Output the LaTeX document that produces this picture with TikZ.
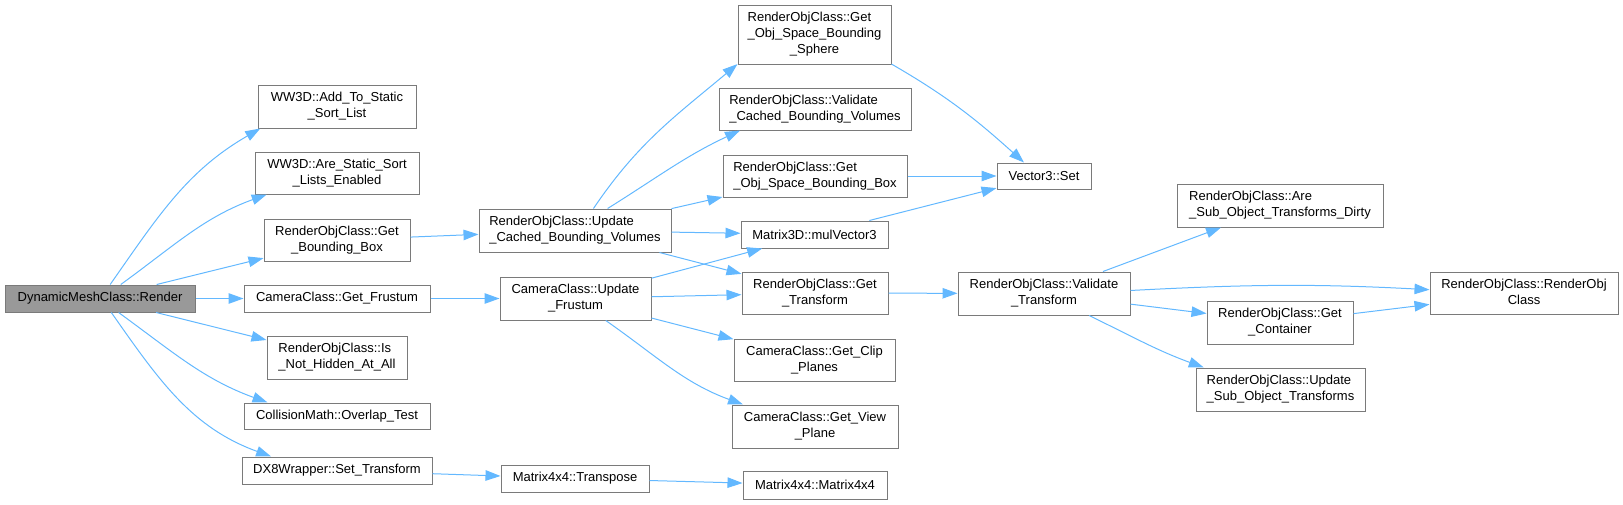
\documentclass[tikz,border=0pt]{standalone}
\usepackage{fontspec}
\setmainfont{Liberation Sans}
\usetikzlibrary{arrows.meta}

\definecolor{CallEdge}{HTML}{63B8FF}
\definecolor{CallFrame}{HTML}{7A7A7A}
\definecolor{CallRoot}{HTML}{999999}

\newcommand\fnlines[2]{\begin{tabular}{@{}l@{}}#1\\\multicolumn{1}{@{}c@{}}{#2}\end{tabular}}

\tikzset{
  fn/.style={draw=CallFrame,line width=1pt,fill=white,inner sep=0pt,
    font=\fontsize{13}{16}\selectfont},
  rootfn/.style={fn,fill=CallRoot},
  call/.style={draw=CallEdge,line width=1pt,-{Triangle[length=15pt,width=10.5pt]}}
}

\begin{document}
\begin{tikzpicture}[x=1pt,y=1pt]
    \useasboundingbox (0,0) rectangle (1623,-504);
    \node[rootfn,minimum width=190pt,minimum height=27pt] (render) at (100,-298.5) {DynamicMeshClass::Render};
    \node[fn,minimum width=158pt,minimum height=43pt] (add) at (337,-106.5) {\fnlines{WW3D::Add\_To\_Static}{\_Sort\_List}};
    \node[fn,minimum width=164pt,minimum height=42pt] (arestatic) at (337,-173) {\fnlines{WW3D::Are\_Static\_Sort}{\_Lists\_Enabled}};
    \node[fn,minimum width=146pt,minimum height=42pt] (getbb) at (337,-240) {\fnlines{RenderObjClass::Get}{\_Bounding\_Box}};
    \node[fn,minimum width=186pt,minimum height=27pt] (getfrust) at (337,-298.5) {CameraClass::Get\_Frustum};
    \node[fn,minimum width=140pt,minimum height=43pt] (isnot) at (337,-357.5) {\fnlines{RenderObjClass::Is}{\_Not\_Hidden\_At\_All}};
    \node[fn,minimum width=186pt,minimum height=26pt] (overlap) at (337,-416) {CollisionMath::Overlap\_Test};
    \node[fn,minimum width=190pt,minimum height=27pt] (settrans) at (337,-470.5) {DX8Wrapper::Set\_Transform};
    \node[fn,minimum width=192pt,minimum height=43pt] (updcached) at (575,-230.5) {\fnlines{RenderObjClass::Update}{\_Cached\_Bounding\_Volumes}};
    \node[fn,minimum width=151pt,minimum height=43pt] (updfrust) at (575.5,-298.5) {\fnlines{CameraClass::Update}{\_Frustum}};
    \node[fn,minimum width=148pt,minimum height=27pt] (transpose) at (575,-478.5) {Matrix4x4::Transpose};
    \node[fn,minimum width=153pt,minimum height=59pt] (sphere) at (814.5,-34.5) {\fnlines{RenderObjClass::Get\\\_Obj\_Space\_Bounding}{\_Sphere}};
    \node[fn,minimum width=192pt,minimum height=42pt] (valcached) at (815,-109) {\fnlines{RenderObjClass::Validate}{\_Cached\_Bounding\_Volumes}};
    \node[fn,minimum width=184pt,minimum height=42pt] (objbb) at (815,-176) {\fnlines{RenderObjClass::Get}{\_Obj\_Space\_Bounding\_Box}};
    \node[fn,minimum width=147pt,minimum height=27pt] (mulvec) at (814.5,-234.5) {Matrix3D::mulVector3};
    \node[fn,minimum width=146pt,minimum height=42pt] (gettrans) at (815,-293) {\fnlines{RenderObjClass::Get}{\_Transform}};
    \node[fn,minimum width=161pt,minimum height=42pt] (clip) at (814.5,-360) {\fnlines{CameraClass::Get\_Clip}{\_Planes}};
    \node[fn,minimum width=166pt,minimum height=43pt] (view) at (815,-426.5) {\fnlines{CameraClass::Get\_View}{\_Plane}};
    \node[fn,minimum width=144pt,minimum height=28pt] (m4) at (815,-485) {Matrix4x4::Matrix4x4};
    \node[fn,minimum width=94pt,minimum height=26pt] (vec3) at (1044,-176) {Vector3::Set};
    \node[fn,minimum width=172pt,minimum height=43pt] (valtrans) at (1044,-293.5) {\fnlines{RenderObjClass::Validate}{\_Transform}};
    \node[fn,minimum width=206pt,minimum height=43pt] (aresub) at (1280,-205.5) {\fnlines{RenderObjClass::Are}{\_Sub\_Object\_Transforms\_Dirty}};
    \node[fn,minimum width=146pt,minimum height=43pt] (getcont) at (1280,-322.5) {\fnlines{RenderObjClass::Get}{\_Container}};
    \node[fn,minimum width=169pt,minimum height=43pt] (updsub) at (1280.5,-389.5) {\fnlines{RenderObjClass::Update}{\_Sub\_Object\_Transforms}};
    \node[fn,minimum width=188pt,minimum height=42pt] (roctor) at (1524,-293) {\fnlines{RenderObjClass::RenderObj}{Class}};

    \draw[call] (render.54) to[out=55,in=210] (add.196);
    \draw[call] (render.34) to[out=36,in=200] (arestatic.197);
    \draw[call] (render) -- (getbb);
    \draw[call] (render) -- (getfrust);
    \draw[call] (render) -- (isnot);
    \draw[call] (render.323) to[out=-36,in=160] (overlap.169);
    \draw[call] (render.309) to[out=-55,in=160] (settrans.168);
    \draw[call] (getbb) -- (updcached);
    \draw[call] (getfrust) -- (updfrust);
    \draw[call] (settrans) -- (transpose);
    \draw[call] (transpose) -- (m4);
    \draw[call] (updcached.50) to[out=56,in=220] (sphere.201);
    \draw[call] (updcached.34) to[out=32,in=205] (valcached.196);
    \draw[call] (updcached) -- (objbb);
    \draw[call] (updcached) -- (mulvec);
    \draw[call] (updcached) -- (gettrans);
    \draw[call] (updfrust) -- (mulvec);
    \draw[call] (updfrust) -- (gettrans);
    \draw[call] (updfrust) -- (clip);
    \draw[call] (updfrust.324) to[out=-35,in=160] (view.163);
    \draw[call] (sphere.339) to[out=-30,in=138] (vec3.146);
    \draw[call] (objbb) -- (vec3);
    \draw[call] (mulvec) -- (vec3);
    \draw[call] (gettrans) -- (valtrans);
    \draw[call] (valtrans) -- (aresub);
    \draw[call] (valtrans.2) to[out=3,in=177] (roctor.178);
    \draw[call] (valtrans) -- (getcont);
    \draw[call] (valtrans.334) to[out=-26,in=160] (updsub.164);
    \draw[call] (getcont) -- (roctor);
\end{tikzpicture}
\end{document}
